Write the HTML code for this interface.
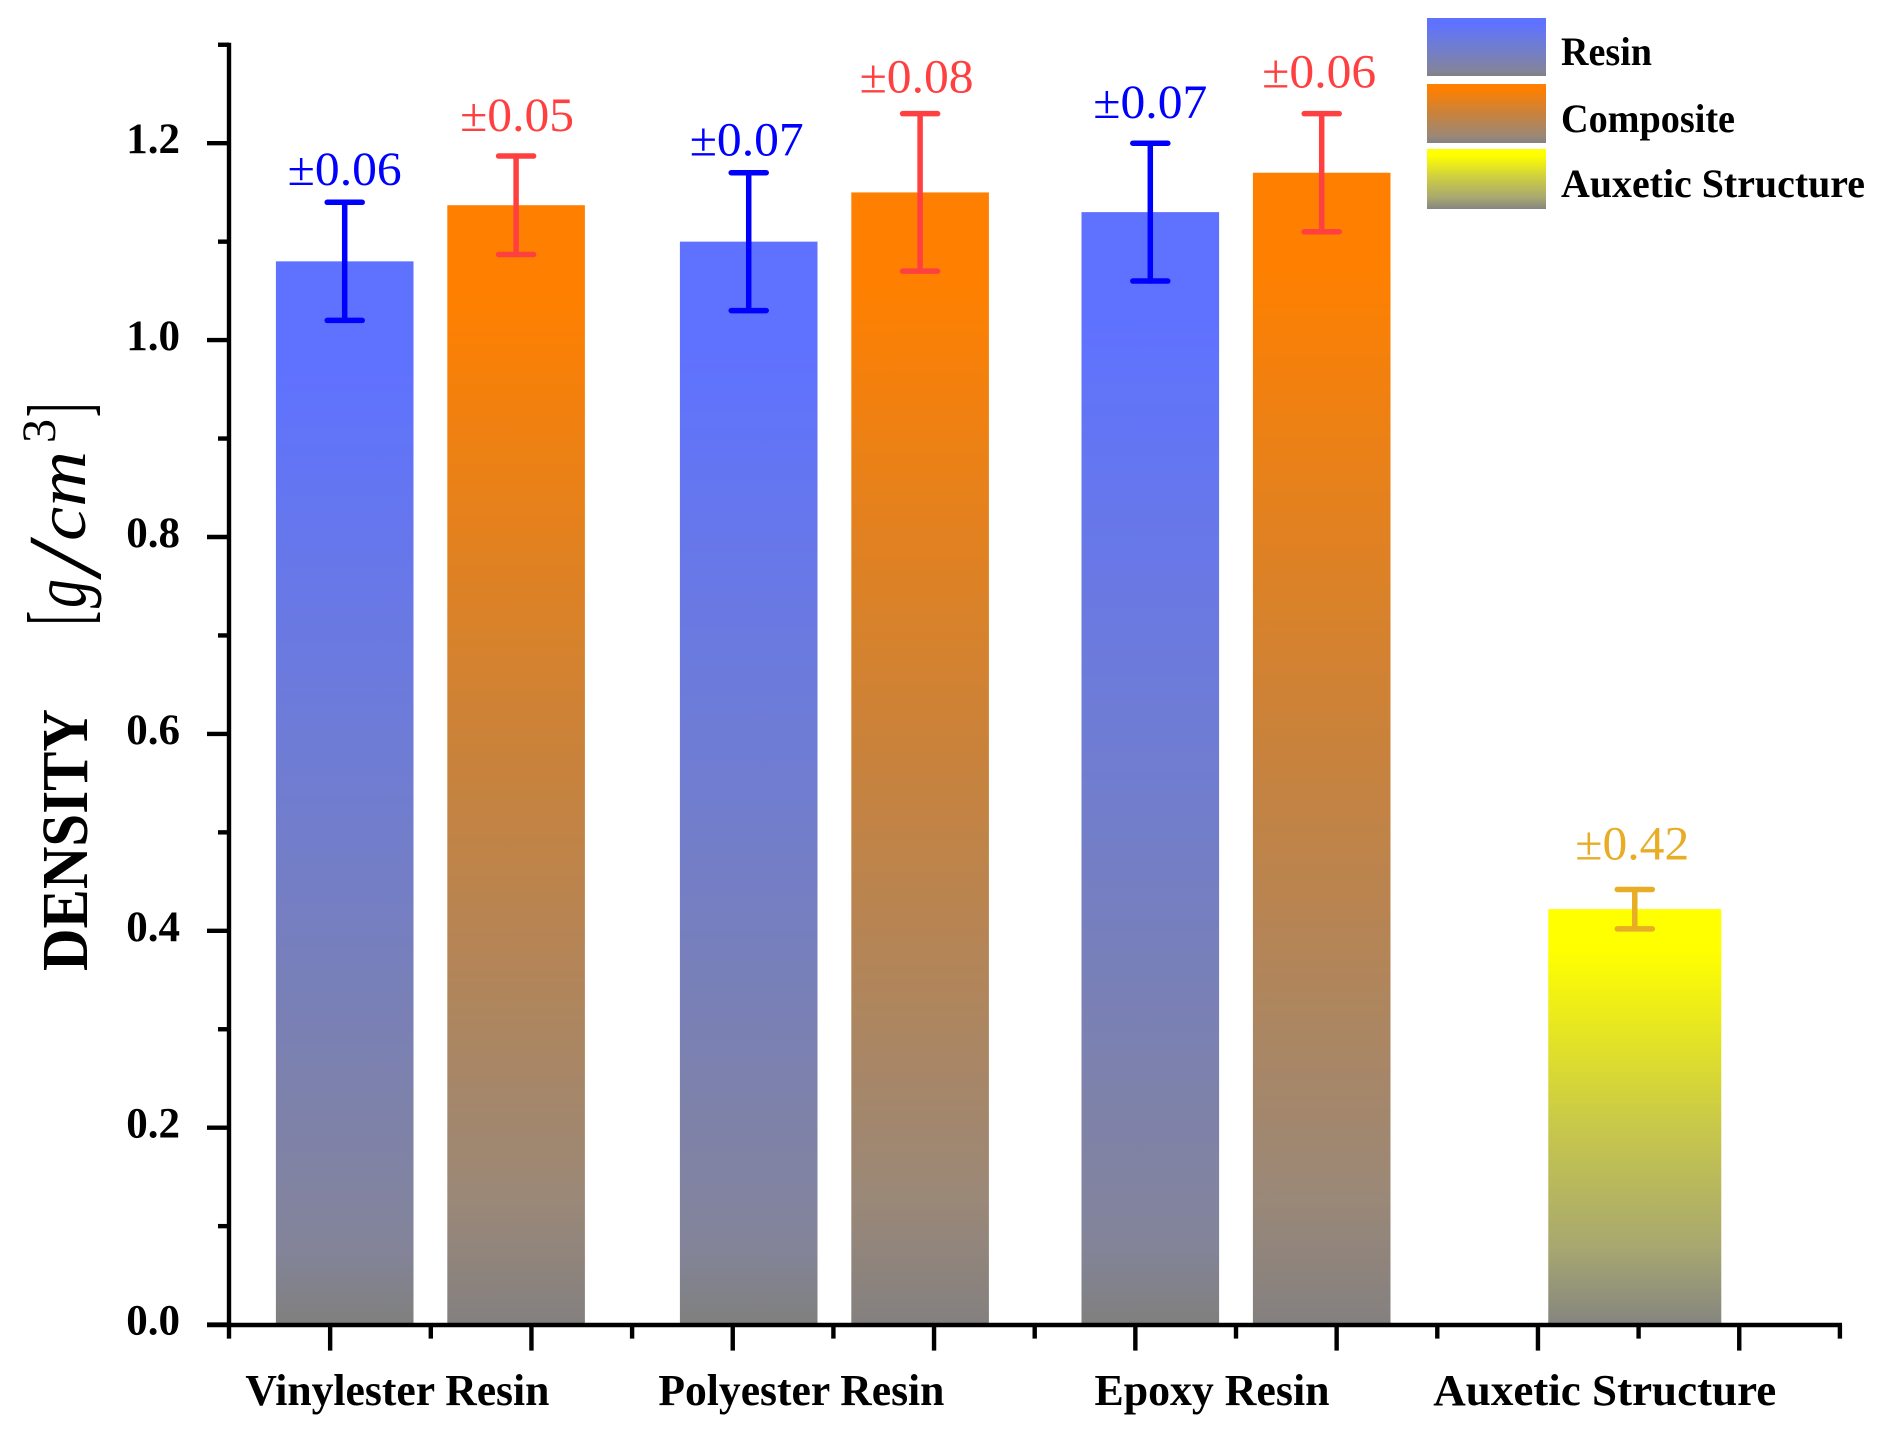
<!DOCTYPE html>
<html lang="en">
<head>
<meta charset="utf-8">
<title>Density bar chart</title>
<style>
html,body{margin:0;padding:0;background:#fff;width:1879px;height:1431px;overflow:hidden}
svg{display:block}
text{font-family:"Liberation Serif",serif}
.b{font-weight:bold;fill:#000}
</style>
</head>
<body>
<svg id="chart" xmlns="http://www.w3.org/2000/svg" width="1879" height="1431" viewBox="0 0 1879 1431">
<defs>
<linearGradient id="g-resin" x1="0" y1="0" x2="0" y2="1"><stop offset="0" stop-color="#5F72FF"/><stop offset="0.1" stop-color="#5F72FF"/><stop offset="0.45" stop-color="#6E7CD6"/><stop offset="0.926" stop-color="#83849A"/><stop offset="1" stop-color="#80807E"/></linearGradient>
<linearGradient id="g-composite" x1="0" y1="0" x2="0" y2="1"><stop offset="0" stop-color="#FF8000"/><stop offset="0.08" stop-color="#FF8000"/><stop offset="0.478" stop-color="#CB8239"/><stop offset="0.89" stop-color="#9A8878"/><stop offset="1" stop-color="#848080"/></linearGradient>
<linearGradient id="g-auxetic" x1="0" y1="0" x2="0" y2="1"><stop offset="0" stop-color="#FFFF00"/><stop offset="0.1" stop-color="#FFFF00"/><stop offset="0.52" stop-color="#C8C84A"/><stop offset="0.81" stop-color="#A8A870"/><stop offset="1" stop-color="#858580"/></linearGradient>
</defs>
<g id="y-title">
<text class="b" font-size="58" transform="translate(87,971) rotate(-90) scale(1,1.14)" textLength="262" lengthAdjust="spacingAndGlyphs">DENSITY</text>
<text font-size="88" transform="translate(88,625) rotate(-90)" textLength="14" lengthAdjust="spacingAndGlyphs">[</text>
<text font-size="76" font-style="italic" transform="translate(85,608) rotate(-90)" textLength="29" lengthAdjust="spacingAndGlyphs">g</text>
<text font-size="105" font-style="italic" transform="translate(100,575) rotate(-90)" textLength="30" lengthAdjust="spacingAndGlyphs">/</text>
<text font-size="70" font-style="italic" transform="translate(85,541) rotate(-90)" textLength="90" lengthAdjust="spacingAndGlyphs">cm</text>
<text font-size="48" transform="translate(55,443) rotate(-90)">3</text>
<text font-size="88" transform="translate(88,417) rotate(-90)" textLength="14" lengthAdjust="spacingAndGlyphs">]</text>
</g>
<g id="bars"></g>
<g id="axes"></g>
<g id="errors"></g>
<g id="legend">
<g>
<rect x="1427" y="18" width="119" height="58" fill="url(#g-resin)"/>
<text class="b" font-size="40" x="1561" y="65" textLength="91" lengthAdjust="spacingAndGlyphs">Resin</text>
</g>
<g>
<rect x="1427" y="84" width="119" height="59" fill="url(#g-composite)"/>
<text class="b" font-size="40" x="1561" y="132" textLength="174" lengthAdjust="spacingAndGlyphs">Composite</text>
</g>
<g>
<rect x="1427" y="149" width="119" height="60" fill="url(#g-auxetic)"/>
<text class="b" font-size="40" x="1561" y="197" textLength="304" lengthAdjust="spacingAndGlyphs">Auxetic Structure</text>
</g>
</g>
</svg>
<script>
// Data
const categories = ["Vinylester Resin", "Polyester Resin", "Epoxy Resin", "Auxetic Structure"];
const categoryPositions = [0, 1.003, 2, 2.99];
const resinValues = [1.08, 1.10, 1.13, null];
const compositeValues = [1.137, 1.15, 1.17, null];
const auxeticValues = [null, null, null, 0.422];
const resinErrors = [0.06, 0.07, 0.07, null];
const compositeErrors = [0.05, 0.08, 0.06, null];
const auxeticErrors = [null, null, null, 0.02];
const resinErrorLabels = ["±0.06", "±0.07", "±0.07", null];
const compositeErrorLabels = ["±0.05", "±0.08", "±0.06", null];
const auxeticErrorLabels = [null, null, null, "±0.42"];
const yTickLabels = ["0.0", "0.2", "0.4", "0.6", "0.8", "1.0", "1.2"];
const yMinorTicks = [0.1, 0.3, 0.5, 0.7, 0.9, 1.1, 1.3];

// Axis functions
const svgNS = "http://www.w3.org/2000/svg";
const yScale = v => 1324.6 - v * 984.5;
const xGroup = u => 430.4 + 402.8 * u;
const xTick = i => 229.5 + 100.65 * i;
const DODGE = 85.7, BAR_W = 137.6, AUX_W = 173;

function add(parent, tag, attrs, txt) {
  const el = document.createElementNS(svgNS, tag);
  for (const k in attrs) el.setAttribute(k, attrs[k]);
  if (txt !== undefined) el.textContent = txt;
  parent.appendChild(el);
  return el;
}

const barsG = document.getElementById("bars");
const errG = document.getElementById("errors");
const axesG = document.getElementById("axes");

function drawSeries(key, values, errors, labels, offset, width, fill, color, gaps, nudges) {
  values.forEach((v, i) => {
    if (v === null) return;
    const cx = xGroup(categoryPositions[i]) + offset;
    const slug = key + "-" + categories[i].toLowerCase().replace(/ /g, "-");
    const bar = add(barsG, "rect", {x: cx - width / 2, y: yScale(v), width: width, height: yScale(0) - yScale(v), fill: fill});
    
    
    const hi = yScale(v + errors[i]), lo = yScale(v - errors[i]);
    const eg = add(errG, "g", {stroke: color, "stroke-width": 5.5, "stroke-linecap": "round"});
    
    
    add(eg, "line", {x1: cx, x2: cx, y1: hi, y2: lo});
    add(eg, "line", {x1: cx - 17.5, x2: cx + 17.5, y1: hi, y2: hi});
    add(eg, "line", {x1: cx - 17.5, x2: cx + 17.5, y1: lo, y2: lo});
    const t = add(errG, "text", {x: cx + nudges[i], y: hi - gaps[i], "text-anchor": "middle", "font-size": 48, fill: color, textLength: 114, lengthAdjust: "spacingAndGlyphs"}, labels[i]);
    
    
  });
}

// Clearance and sideways nudge of each printed label relative to its cap (layout only)
const resinLabelGaps = [17.5, 17, 25, 0];
const compositeLabelGaps = [25, 21, 26, 0];
const auxeticLabelGaps = [0, 0, 0, 30];
const resinLabelNudges = [0, -2, 0, 0];
const compositeLabelNudges = [1, -3.5, -2.5, 0];
const auxeticLabelNudges = [0, 0, 0, -2.5];

drawSeries("resin", resinValues, resinErrors, resinErrorLabels, -DODGE, BAR_W, "url(#g-resin)", "#0000FF", resinLabelGaps, resinLabelNudges);
drawSeries("composite", compositeValues, compositeErrors, compositeErrorLabels, DODGE, BAR_W, "url(#g-composite)", "#FF4040", compositeLabelGaps, compositeLabelNudges);
drawSeries("auxetic", auxeticValues, auxeticErrors, auxeticErrorLabels, 0, AUX_W, "url(#g-auxetic)", "#E8AC25", auxeticLabelGaps, auxeticLabelNudges);

// Axis lines
const yAxis = add(axesG, "line", {x1: 229, x2: 229, y1: yScale(1.3) - 2, y2: yScale(0) + 14, stroke: "#000", "stroke-width": 4.4});


const xAxis = add(axesG, "line", {x1: 207, x2: 1842, y1: 1325, y2: 1325, stroke: "#000", "stroke-width": 4.6});



// Y ticks
yTickLabels.forEach(label => {
  const v = parseFloat(label);
  const tick = add(axesG, "line", {x1: 207, x2: 229, y1: yScale(v), y2: yScale(v), stroke: "#000", "stroke-width": 4.4});
  
  
  const t = add(axesG, "text", {x: 180, y: yScale(v) + 10, "text-anchor": "end", "font-size": 43, class: "b"}, label);
  
  
});
yMinorTicks.forEach(v => {
  const tick = add(axesG, "line", {x1: 218, x2: 229, y1: yScale(v), y2: yScale(v), stroke: "#000", "stroke-width": 4.4});
  
  
});

// X ticks: alternating minor and major marks
for (let i = 1; i <= 16; i++) {
  const major = i % 2 === 1;
  const tick = add(axesG, "line", {x1: xTick(i), x2: xTick(i), y1: yScale(0), y2: yScale(0) + (major ? 26 : 14), stroke: "#000", "stroke-width": 4.4});
  
  
}

// X category labels
const xLabelWidths = [304, 286, 235, 343];
const xLabelShift = [-33, -33, -24, -30];
categories.forEach((c, i) => {
  const t = add(axesG, "text", {x: xGroup(categoryPositions[i]) + xLabelShift[i] - xLabelWidths[i] / 2, y: 1405, "font-size": 44, class: "b", textLength: xLabelWidths[i], lengthAdjust: "spacingAndGlyphs"}, c);
  
  
});
</script>
</body>
</html>
